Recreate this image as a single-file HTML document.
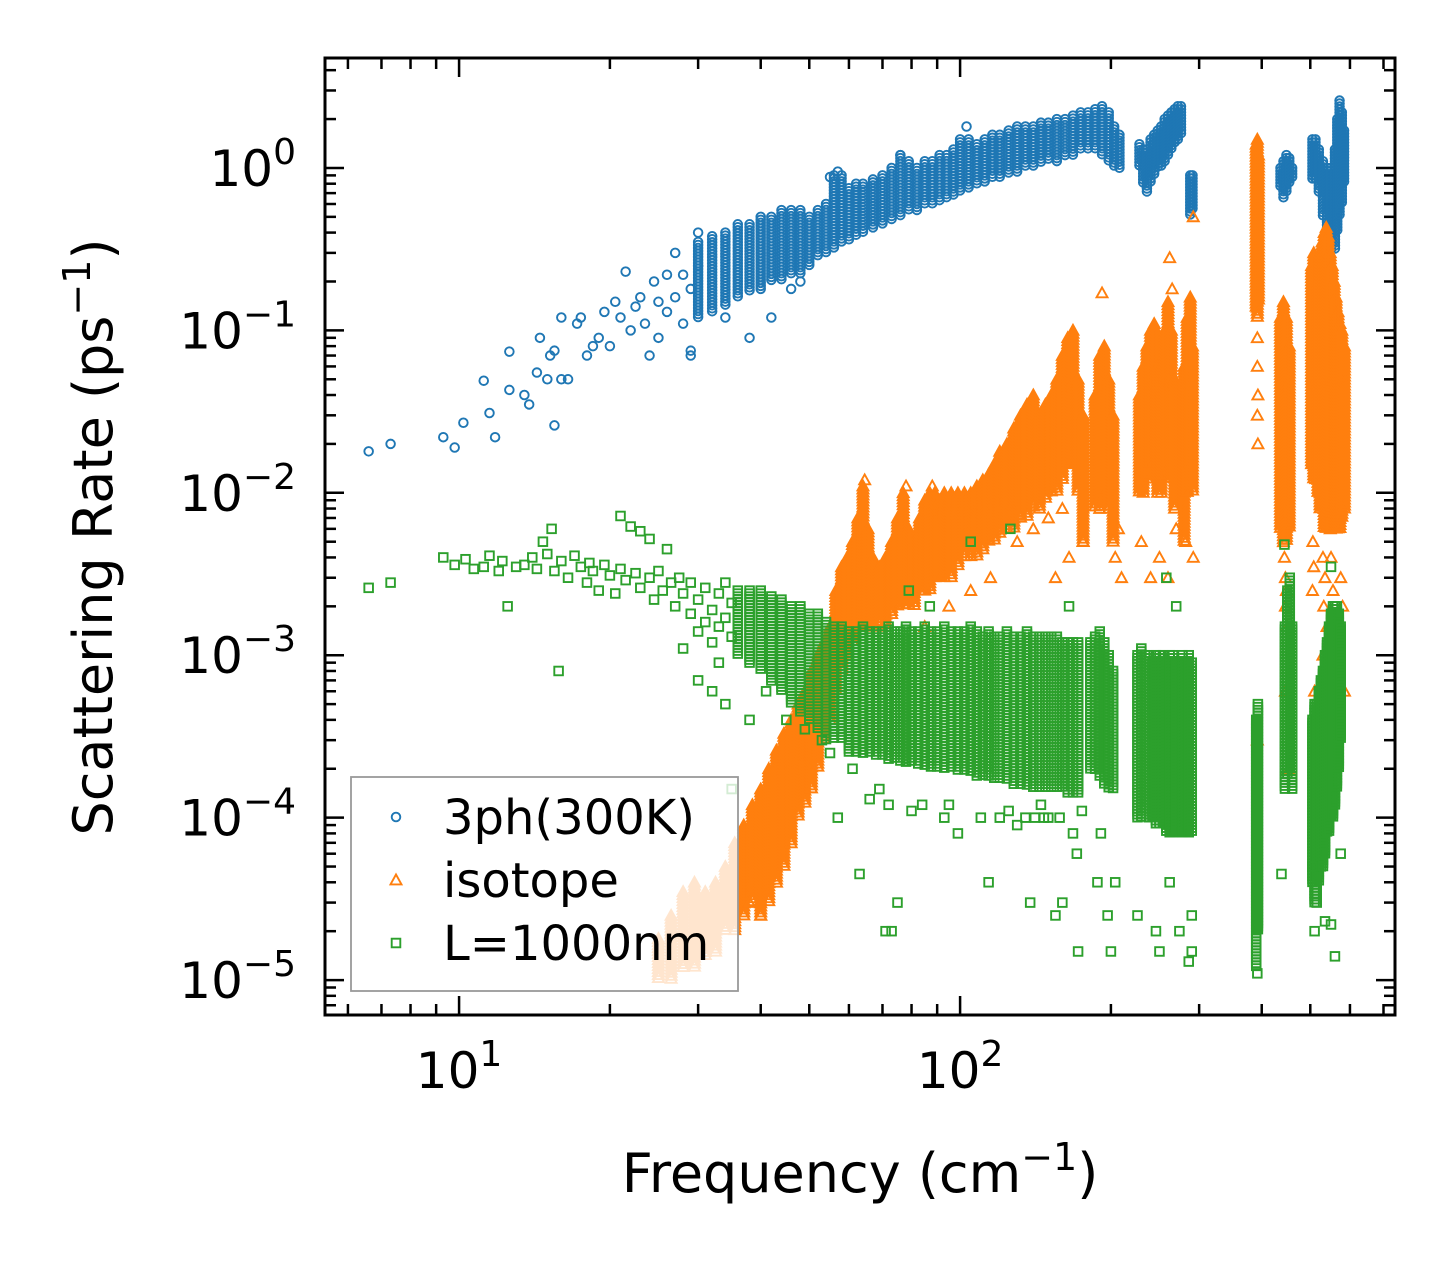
<!DOCTYPE html>
<html><head><meta charset="utf-8"><style>
html,body{margin:0;padding:0;background:#fff;}
svg{display:block;font-family:"DejaVu Sans","Liberation Sans",sans-serif;}
</style></head><body>
<svg id="chart" width="1455" height="1265" viewBox="0 0 1455 1265" xmlns="http://www.w3.org/2000/svg">
<rect x="0" y="0" width="1455" height="1265" fill="#fff"/>
<defs><clipPath id="plotclip"><rect x="325" y="58" width="1070" height="957"/></clipPath></defs>
<g id="marks" clip-path="url(#plotclip)"></g>
<g id="axes"></g>
<g id="legend"></g>
<text x="860" y="1192" text-anchor="middle" font-size="54">Frequency (cm<tspan font-size="38" dy="-22">−1</tspan><tspan dy="22">)</tspan></text>
<text transform="translate(112,537) rotate(-90)" text-anchor="middle" font-size="54">Scattering Rate (ps<tspan font-size="38" dy="-22">−1</tspan><tspan dy="22">)</tspan></text>
</svg>
<script>
const xTickExps=[1,2];
const yTickExps=[0,-1,-2,-3,-4,-5];
// dense clouds: [frequency, lowest rate, highest rate]
const blueBands=[[30,0.12,0.35],[32,0.13,0.38],[34,0.14,0.4],[36,0.16,0.45],[38,0.17,0.45],[40,0.18,0.5],[42,0.2,0.5],[44,0.2,0.55],[46,0.22,0.55],[48,0.22,0.55],[50,0.25,0.5],[52,0.28,0.55],[54,0.3,0.6],[56,0.32,0.9],[58,0.35,0.9],[60,0.35,0.75],[62,0.38,0.8],[64,0.4,0.8],[67,0.42,0.85],[70,0.45,0.9],[73,0.47,1.0],[76,0.5,1.2],[79,0.55,1.1],[82,0.55,1.0],[85,0.6,1.1],[88,0.6,1.1],[91,0.62,1.2],[94,0.65,1.2],[97,0.68,1.3],[100,0.7,1.5],[104,0.75,1.5],[108,0.78,1.4],[112,0.8,1.5],[116,0.85,1.6],[120,0.85,1.6],[125,0.9,1.7],[130,0.95,1.8],[135,1.0,1.8],[140,1.0,1.8],[145,1.05,1.9],[150,1.1,1.9],[156,1.1,2.0],[162,1.2,2.0],[168,1.2,2.1],[174,1.3,2.2],[180,1.3,2.2],[186,1.3,2.3],[192,1.2,2.4],[198,1.1,2.2],[203,1.0,1.8],[208,1.0,1.6],[228,1.0,1.4],[232,0.8,1.3],[236,0.7,1.3],[240,0.8,1.5],[244,0.9,1.6],[248,1.0,1.7],[252,1.0,1.8],[256,1.1,2.0],[260,1.2,2.1],[264,1.3,2.2],[268,1.4,2.3],[272,1.5,2.4],[276,1.6,2.4],[288,0.5,0.9],[291,0.55,0.9],[390,0.7,1.3],[436,0.75,1.0],[442,0.65,1.1],[448,0.7,1.2],[454,0.8,1.15],[460,0.85,1.0],[505,0.85,1.5],[512,0.85,1.5],[520,0.7,1.3],[530,0.5,1.1],[540,0.35,1.0],[550,0.31,1.0],[560,0.31,1.3],[566,0.4,2.0],[572,0.5,2.6],[578,0.6,2.2],[584,0.8,1.7]];
const orangeBands=[[25,1e-5,1.8e-5],[26.5,1e-5,2.5e-5],[28,1.2e-5,3.5e-5],[29.5,1.2e-5,4e-5],[31,1.4e-5,3.5e-5],[32.5,1.5e-5,4e-5],[34,2e-5,5e-5],[35.5,2e-5,7e-5],[37,2.5e-5,9e-5],[38.5,3e-5,1.2e-4],[40,2.5e-5,1.5e-4],[41.5,3e-5,2e-4],[43,4e-5,2.6e-4],[44.5,5e-5,3.3e-4],[46,7e-5,4e-4],[47.5,1e-4,5e-4],[49,1.2e-4,6e-4],[50.5,1.5e-4,8e-4],[52,2e-4,1e-3],[53.5,3e-4,1.2e-3],[55,4e-4,1.5e-3],[56.5,6e-4,2.5e-3],[58,8e-4,3.5e-3],[59.5,1e-3,4e-3],[61,1.2e-3,5e-3],[62.5,1.5e-3,7e-3],[64,1.5e-3,1.1e-2],[65.5,1.5e-3,6e-3],[67,1.5e-3,4e-3],[69,1.5e-3,3.5e-3],[71,1.5e-3,4e-3],[73,1.8e-3,5e-3],[75,2e-3,7e-3],[77,2e-3,1e-2],[79,2e-3,6e-3],[81,2e-3,5e-3],[83,2.5e-3,7e-3],[85,2.5e-3,9e-3],[87,2.5e-3,1e-2],[89,3e-3,1e-2],[91,3e-3,9e-3],[93,3e-3,1e-2],[96,3e-3,1e-2],[99,3.5e-3,1e-2],[102,4e-3,1e-2],[105,4e-3,1e-2],[108,4e-3,1.1e-2],[111,4.5e-3,1.2e-2],[114,5e-3,1.3e-2],[117,5e-3,1.5e-2],[120,5.5e-3,1.8e-2],[124,6e-3,2e-2],[128,6e-3,2.5e-2],[132,7e-3,3e-2],[136,7e-3,3.5e-2],[140,8e-3,4e-2],[144,8e-3,3e-2],[148,9e-3,3.5e-2],[152,1e-2,4e-2],[156,1e-2,5e-2],[160,1.2e-2,7e-2],[164,1.5e-2,9e-2],[168,1.5e-2,1e-1],[172,1e-2,5e-2],[176,5e-3,3e-2],[186,8e-3,4e-2],[190,8e-3,7e-2],[194,1e-2,8e-2],[198,8e-3,5e-2],[202,5e-3,3e-2],[228,1e-2,4e-2],[232,1e-2,6e-2],[236,1.2e-2,8e-2],[240,1.5e-2,1e-1],[244,1.5e-2,1.1e-1],[248,1e-2,6e-2],[252,1e-2,6e-2],[256,1.2e-2,1e-1],[260,1.5e-2,1.5e-1],[264,1.2e-2,1e-1],[268,8e-3,5e-2],[280,5e-3,6e-2],[284,1e-2,1.2e-1],[288,1.5e-2,1.6e-1],[291,1e-2,8e-2],[390,0.14,1.4],[392,0.12,1.5],[394,0.15,1.2],[436,6e-3,0.12],[442,5e-3,0.15],[448,5e-3,0.12],[454,6e-3,0.08],[503,0.015,0.25],[508,0.012,0.3],[513,0.012,0.25],[518,0.01,0.2],[523,0.008,0.3],[528,0.008,0.35],[533,0.006,0.4],[538,0.006,0.43],[543,0.006,0.38],[548,0.006,0.3],[553,0.006,0.25],[558,0.006,0.2],[563,0.006,0.16],[568,0.006,0.13],[573,0.006,0.11],[578,0.007,0.1],[585,0.008,0.08]];
const greenBands=[[36,1e-3,2.5e-3],[38,9e-4,2.5e-3],[40,8e-4,2.5e-3],[42,7e-4,2.3e-3],[44,6e-4,2.2e-3],[46,5e-4,2e-3],[48,4.5e-4,2e-3],[50,4e-4,1.8e-3],[52,3.5e-4,1.8e-3],[54,3e-4,1.6e-3],[56,3e-4,1.5e-3],[58,3e-4,1.5e-3],[60,2.5e-4,1.4e-3],[62,2.5e-4,1.4e-3],[64,2.5e-4,1.5e-3],[66,2.5e-4,1.4e-3],[68,2.4e-4,1.4e-3],[70,2.4e-4,1.4e-3],[72,2.3e-4,1.5e-3],[74,2.3e-4,1.4e-3],[76,2.2e-4,1.4e-3],[78,2.2e-4,1.5e-3],[80,2.2e-4,1.4e-3],[82.5,2.1e-4,1.4e-3],[85,2.1e-4,1.5e-3],[87.5,2e-4,1.4e-3],[90,2e-4,1.4e-3],[93,2e-4,1.5e-3],[96,2e-4,1.4e-3],[99,1.9e-4,1.4e-3],[102,1.9e-4,1.4e-3],[105,1.9e-4,1.5e-3],[108,1.8e-4,1.4e-3],[111,1.8e-4,1.3e-3],[114,1.8e-4,1.4e-3],[117,1.7e-4,1.3e-3],[120,1.7e-4,1.3e-3],[124,1.7e-4,1.4e-3],[128,1.6e-4,1.3e-3],[132,1.6e-4,1.3e-3],[136,1.6e-4,1.4e-3],[140,1.5e-4,1.3e-3],[144,1.5e-4,1.3e-3],[148,1.5e-4,1.3e-3],[152,1.5e-4,1.3e-3],[156,1.5e-4,1.3e-3],[160,1.5e-4,1.2e-3],[164,1.4e-4,1.2e-3],[168,1.4e-4,1.2e-3],[172,1.4e-4,1.2e-3],[182,2e-4,1.2e-3],[186,2e-4,1.3e-3],[190,1.8e-4,1.4e-3],[194,1.6e-4,1.2e-3],[198,1.5e-4,1e-3],[202,1.5e-4,8e-4],[226,1e-4,1e-3],[230,1e-4,1.1e-3],[234,1.1e-4,1e-3],[238,1e-4,1e-3],[242,1e-4,9e-4],[246,9e-5,1e-3],[250,9e-5,1e-3],[254,9e-5,1e-3],[258,8e-5,9e-4],[262,8e-5,1e-3],[266,8e-5,1e-3],[270,8e-5,9e-4],[274,8e-5,9e-4],[278,8e-5,1e-3],[282,8e-5,9e-4],[286,8e-5,1e-3],[290,8e-5,9e-4],[390,1.2e-5,4e-4],[393,2e-5,5e-4],[445,1.5e-4,1.5e-3],[450,1.8e-4,2.5e-3],[455,2e-4,3e-3],[460,1.5e-4,1.5e-3],[505,4e-5,4e-4],[510,3e-5,5e-4],[515,3e-5,5e-4],[520,4e-5,6e-4],[525,5e-5,7e-4],[530,5e-5,8e-4],[535,6e-5,1e-3],[540,8e-5,1.2e-3],[545,8e-5,1.5e-3],[550,1e-4,1.8e-3],[555,1e-4,2e-3],[560,1.2e-4,2e-3],[565,1.5e-4,2e-3],[570,2e-4,1.8e-3],[575,3e-4,1.5e-3]];
const blueData=[[6.6,0.018],[7.3,0.020],[9.3,0.022],[9.8,0.019],[10.2,0.027],[11.2,0.049],[11.5,0.031],[11.8,0.022],[12.6,0.074],[12.6,0.043],[13.5,0.040],[13.8,0.035],[14.3,0.055],[14.5,0.09],[15.0,0.05],[15.2,0.07],[15.5,0.075],[15.5,0.026],[16,0.12],[16,0.05],[16.5,0.05],[17.2,0.11],[17.5,0.12],[18,0.07],[18.5,0.08],[19,0.09],[19.5,0.13],[20,0.08],[20.5,0.15],[21,0.12],[21.5,0.23],[22,0.1],[22.5,0.14],[23,0.16],[23.5,0.11],[24,0.07],[24.5,0.2],[25,0.09],[25,0.15],[26,0.22],[26,0.13],[27,0.16],[27,0.3],[28,0.11],[28,0.22],[29,0.075],[29,0.18],[30,0.4],[30,0.25],[38,0.09],[42,0.12],[46,0.18],[48,0.2],[34,0.12],[29,0.07],[76,1.2],[103,1.8],[55,0.88],[57,0.95]];
const orangeData=[[64.5,1.2e-2],[78,1.1e-2],[88,1.1e-2],[85,1.5e-3],[95,2e-3],[105,2.5e-3],[115,3e-3],[130,5e-3],[140,6e-3],[150,7e-3],[160,8e-3],[176,5e-3],[165,4e-3],[155,3e-3],[192,0.17],[204,4e-3],[207,6e-3],[210,3e-3],[262,0.28],[265,0.18],[270,6e-3],[282,5e-3],[292,4e-3],[292,0.5],[240,3e-3],[250,4e-3],[260,3e-3],[230,5e-3],[392,3e-4],[392,0.03],[393,0.02],[393,0.04],[392,0.06],[392,0.09],[444,4e-3],[446,3e-3],[448,2.5e-3],[446,2e-3],[450,1.5e-3],[446,6e-4],[452,2e-4],[506,5e-3],[508,3.5e-3],[505,2.5e-3],[530,4e-3],[535,3e-3],[532,2e-3],[540,1.5e-3],[545,1e-3],[550,4e-3],[555,2.5e-3],[560,1.8e-3],[565,1.2e-3],[575,3e-3],[580,2e-3],[585,6e-4],[510,6e-4],[530,1e-3],[40,2.5e-5],[38,3e-5]];
const greenData=[[6.6,2.6e-3],[7.3,2.8e-3],[9.3,4e-3],[9.8,3.6e-3],[10.3,3.9e-3],[10.7,3.4e-3],[11.2,3.5e-3],[11.5,4.1e-3],[12,3.3e-3],[12.2,3.8e-3],[12.5,2e-3],[13,3.5e-3],[13.5,3.6e-3],[14,4e-3],[14.3,3.4e-3],[14.7,5e-3],[15,4.2e-3],[15.3,6e-3],[15.5,3.3e-3],[15.8,8e-4],[16,3.8e-3],[16.5,3e-3],[17,4.1e-3],[17.5,3.5e-3],[18,2.8e-3],[18.2,3.7e-3],[18.5,3.3e-3],[19,2.5e-3],[19.5,3.6e-3],[20,3.1e-3],[20.5,2.4e-3],[21,7.2e-3],[21,3.4e-3],[21.5,2.9e-3],[22,6.2e-3],[22.5,3.2e-3],[23,5.8e-3],[23,2.6e-3],[24,5.2e-3],[24,3e-3],[24.5,2.2e-3],[25,3.3e-3],[25.5,2.5e-3],[26,4.5e-3],[26.5,2.8e-3],[27,2e-3],[27.5,3e-3],[28,1.1e-3],[28,2.4e-3],[29,2.8e-3],[29,1.8e-3],[30,2.2e-3],[30,1.4e-3],[30,7e-4],[31,2.6e-3],[31,1.6e-3],[32,1.9e-3],[32,1.2e-3],[32,6e-4],[33,2.4e-3],[33,1.5e-3],[33,9e-4],[34,1.7e-3],[34,2.8e-3],[34,5e-4],[35,1.3e-3],[35,2.1e-3],[35,1.5e-4],[38,4e-4],[41,6e-4],[45,4e-4],[49,3.5e-4],[53,3e-4],[55,2.5e-4],[57,1e-4],[61,2e-4],[63,4.5e-5],[69,1.5e-4],[71,2e-5],[73,2e-5],[75,3e-5],[79,2.5e-3],[84,1.2e-4],[87,2e-3],[93,1e-4],[99,8e-5],[105,5e-3],[114,4e-5],[120,1e-4],[126,6e-3],[135,1e-4],[138,3e-5],[141,1e-4],[147,1e-4],[160,3e-5],[155,2.5e-5],[172,1.5e-5],[165,2e-3],[168,8e-5],[171,6e-5],[188,4e-5],[191,8e-5],[197,2.5e-5],[200,1.5e-5],[204,4e-5],[226,2.5e-5],[246,2e-5],[250,1.5e-5],[258,3e-3],[262,4e-5],[270,2e-3],[274,2e-5],[286,1.3e-5],[290,2.5e-5],[290,1.5e-5],[392,1.1e-5],[438,4.5e-5],[444,4.8e-3],[505,5e-5],[510,2e-5],[515,3e-5],[535,2.3e-5],[550,3.5e-3],[550,2.2e-5],[560,1.4e-5],[575,6e-5],[80,1.1e-4],[95,1.2e-4],[110,1e-4],[125,1.1e-4],[130,9e-5],[150,1e-4],[145,1.2e-4],[158,1e-4],[175,1.1e-4],[66,1.3e-4],[72,1.2e-4]];

const SVGNS='http://www.w3.org/2000/svg';
const X0=325,X1=1395,Y0=58,Y1=1015;
const xLogMin=Math.log10(5.4), xLogMax=Math.log10(738);
const yLogMin=-5.215, yLogMax=0.677;
function xs(v){return X0+(Math.log10(v)-xLogMin)/(xLogMax-xLogMin)*(X1-X0);}
function ys(v){return Y1-(Math.log10(v)-yLogMin)/(yLogMax-yLogMin)*(Y1-Y0);}
function mk(tag,attrs,parent){const e=document.createElementNS(SVGNS,tag);for(const k in attrs)e.setAttribute(k,attrs[k]);parent.appendChild(e);return e;}
const marks=document.getElementById('marks');
function circle(g,cx,cy){return mk('circle',{cx:cx,cy:cy,r:4.3,fill:'none',stroke:'#1f77b4','stroke-width':1.9},g);}
function tri(g,cx,cy){const s=5.5;return mk('polygon',{points:`${cx},${cy-s} ${cx+s},${cy+s*0.8} ${cx-s},${cy+s*0.8}`,fill:'none',stroke:'#ff7f0e','stroke-width':1.9},g);}
function sq(g,cx,cy){const s=4.3;return mk('rect',{x:cx-s,y:cy-s,width:2*s,height:2*s,fill:'none',stroke:'#2ca02c','stroke-width':1.9},g);}
function drawSeries(name,bands,points,fn){
  const g=mk('g',{},marks);
  
  
  bands.forEach(b=>{const x=xs(b[0]);const yTop=ys(b[2]),yBot=ys(b[1]);
    for(let y=yTop;y<=yBot+0.1;y+=3){const e=fn(g,x,y);
      
      }});
  points.forEach(d=>{const e=fn(g,xs(d[0]),ys(d[1]));
    
    });
}
drawSeries('series-3ph',blueBands,blueData,circle);
drawSeries('series-isotope',orangeBands,orangeData,tri);
drawSeries('series-boundary',greenBands,greenData,sq);

const ax=document.getElementById('axes');
mk('rect',{x:X0,y:Y0,width:X1-X0,height:Y1-Y0,fill:'none',stroke:'#000','stroke-width':3},ax);
for(let e=0;e<=2;e++){for(let m=1;m<=9;m++){const v=m*Math.pow(10,e);const x=xs(v);if(x<X0||x>X1)continue;const L=m===1?19:11;
mk('line',{x1:x,y1:Y1,x2:x,y2:Y1-L,stroke:'#000','stroke-width':2.5},ax);
mk('line',{x1:x,y1:Y0,x2:x,y2:Y0+L,stroke:'#000','stroke-width':2.5},ax);}}
for(let e=-6;e<=0;e++){for(let m=1;m<=9;m++){const v=m*Math.pow(10,e);const y=ys(v);if(y<Y0||y>Y1)continue;const L=m===1?19:11;
mk('line',{x1:X0,y1:y,x2:X0+L,y2:y,stroke:'#000','stroke-width':2.5},ax);
mk('line',{x1:X1,y1:y,x2:X1-L,y2:y,stroke:'#000','stroke-width':2.5},ax);}}
xTickExps.forEach(e=>{const x=xs(Math.pow(10,e));
const t=mk('text',{x:x,y:1088,'text-anchor':'middle','font-size':50},ax);


t.innerHTML=`10<tspan font-size="36" dy="-22">${e}</tspan>`;});
yTickExps.forEach(e=>{const y=ys(Math.pow(10,e));
const t=mk('text',{x:296,y:y+18,'text-anchor':'end','font-size':50},ax);


t.innerHTML=`10<tspan font-size="36" dy="-22">${e<0?'−'+(-e):e}</tspan>`;});

const lg=document.getElementById('legend');
mk('rect',{x:351,y:777,width:387,height:214,fill:'rgba(255,255,255,0.8)',stroke:'#999','stroke-width':1.8},lg);
const legendLabels=['3ph(300K)','isotope','L=1000nm'];
const fns=[circle,tri,sq];
legendLabels.forEach((lab,i)=>{const cy=817+i*63;
const g=mk('g',{},lg);


fns[i](g,396,cy);
const t=mk('text',{x:443,y:cy+17,'font-size':48},g);t.textContent=lab;});
</script>
</body></html>
